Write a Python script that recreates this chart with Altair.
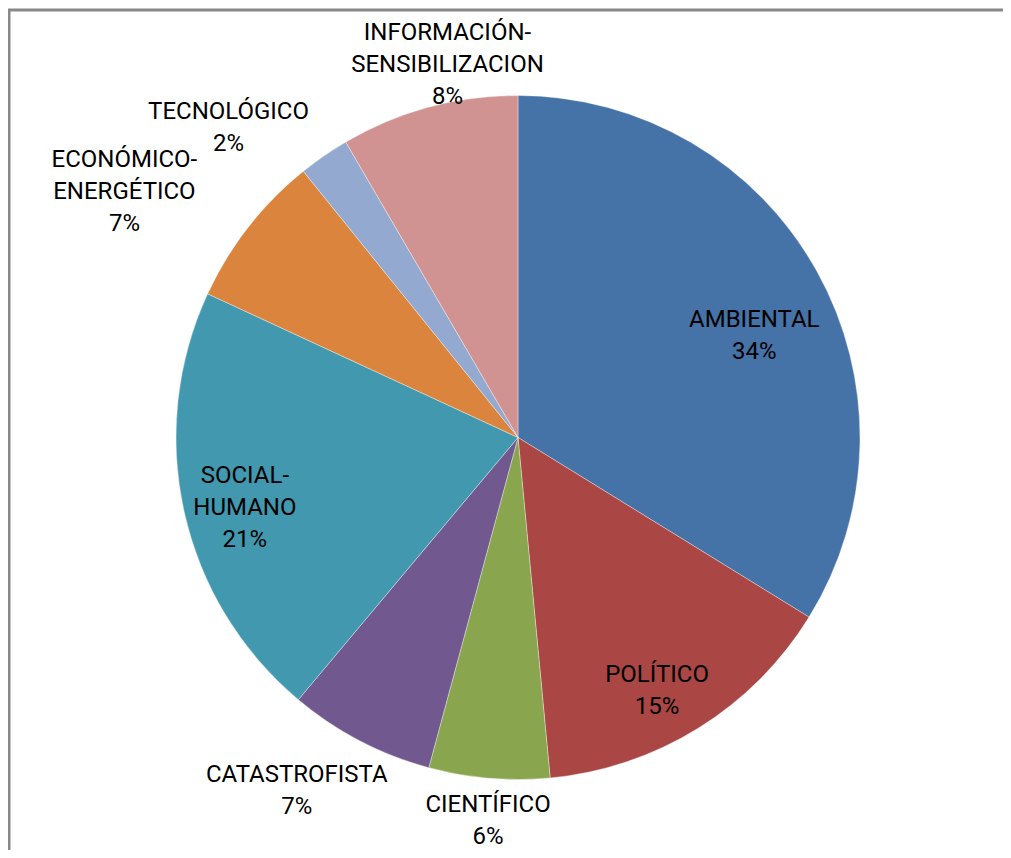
import altair as alt
import pandas as pd

# ---- data ----
categories = ["AMBIENTAL", "POLÍTICO", "CIENTÍFICO", "CATASTROFISTA",
              "SOCIAL-HUMANO", "ECONÓMICO-ENERGÉTICO", "TECNOLÓGICO",
              "INFORMACIÓN-SENSIBILIZACION"]
label_names = ["AMBIENTAL", "POLÍTICO", "CIENTÍFICO", "CATASTROFISTA",
               "SOCIAL-\nHUMANO", "ECONÓMICO-\nENERGÉTICO", "TECNOLÓGICO",
               "INFORMACIÓN-\nSENSIBILIZACION"]
values = [33.8, 14.7, 5.7, 6.9, 20.8, 7.3, 2.4, 8.4]

# ---- styles ----
colors = ["#4572A7", "#AA4643", "#89A54E", "#71588F",
          "#4198AF", "#DB843D", "#93A9CF", "#D19392"]
# label placement relative to each slice's mid-angle (distance in px, angular nudge in degrees)
label_radius = [257, 289, 385, 417, 282, 464, 424, 379]
label_nudge = [6.0, 3.1, -0.4, 4.5, -1.8, -6.0, -8.5, 4.4]

W, H = 995, 842
CX, CY, R = 510, 429.5, 342
LINE_H = 32

labels_full = [f"{n}\n{round(v)}%" for n, v in zip(label_names, values)]
df = pd.DataFrame({
    "cat": categories,
    "val": values,
    "idx": list(range(len(categories))),
    "label": labels_full,
    "nl": [s.count("\n") + 1 for s in labels_full],
    "lr": label_radius,
    "nudge": label_nudge,
})

pie = alt.Chart(df).mark_arc(radius=R, stroke="white", strokeWidth=0.6, strokeOpacity=0.6).encode(
    theta=alt.Theta("val:Q", stack=True),
    order=alt.Order("idx:Q"),
    color=alt.Color("cat:N", scale=alt.Scale(domain=categories, range=colors), legend=None),
    x=alt.value(CX),
    y=alt.value(CY),
)

labels = alt.Chart(df).transform_window(
    cum="sum(val)", sort=[alt.SortField("idx")], frame=[None, 0]
).transform_joinaggregate(
    total="sum(val)"
).transform_calculate(
    ang="2 * PI * (datum.cum - datum.val / 2) / datum.total + datum.nudge * PI / 180"
).transform_calculate(
    px=f"{CX} + datum.lr * sin(datum.ang)",
    py=f"{CY} - datum.lr * cos(datum.ang) - (datum.nl - 1) * {LINE_H} / 2",
).mark_text(
    font="Roboto", fontSize=24, lineBreak="\n", lineHeight=LINE_H,
    align="center", baseline="middle", color="#000000",
).encode(
    x=alt.X("px:Q", scale=None, axis=None),
    y=alt.Y("py:Q", scale=None, axis=None),
    text="label:N",
)

frame_src = alt.Chart(pd.DataFrame({"a": [0]}))
top_rule = frame_src.mark_rule(color="#888888", strokeWidth=3).encode(
    x=alt.value(0), x2=alt.value(W), y=alt.value(2)
)
left_rule = frame_src.mark_rule(color="#888888", strokeWidth=3).encode(
    x=alt.value(1), y=alt.value(1), y2=alt.value(H)
)

chart = alt.layer(pie, labels, top_rule, left_rule).properties(
    width=W, height=H, padding=0,
    autosize=alt.AutoSizeParams(type="none"),
    background="white",
).configure_view(stroke=None)

chart.save("out.html", embed_options={"renderer": "svg", "actions": False})
